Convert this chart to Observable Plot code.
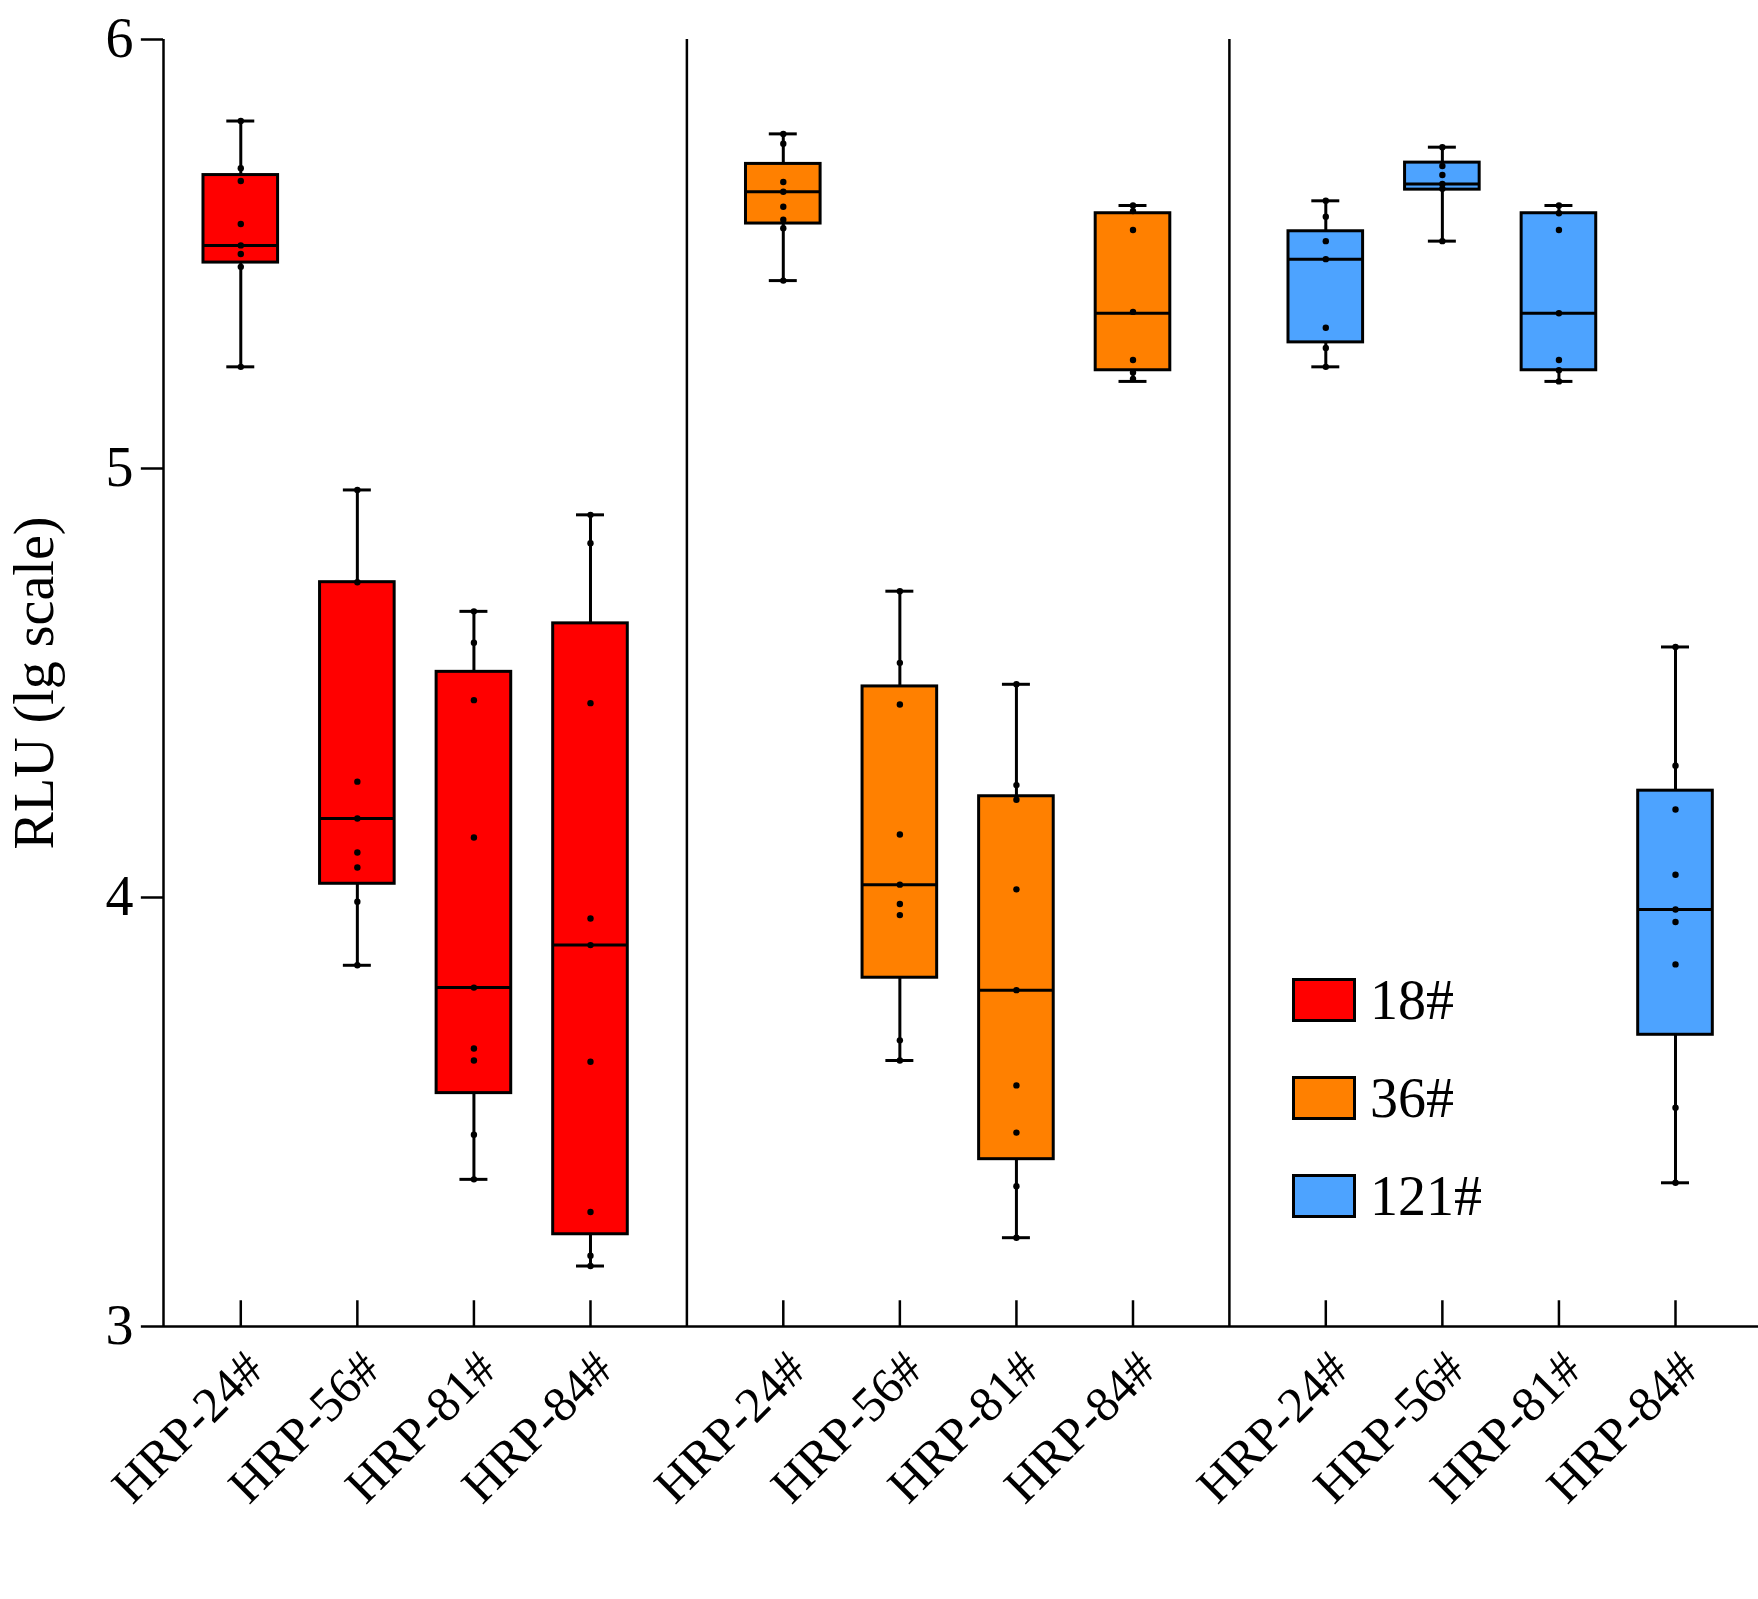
<!DOCTYPE html>
<html><head><meta charset="utf-8">
<script src="https://cdn.jsdelivr.net/npm/d3@7"></script>
<script src="https://cdn.jsdelivr.net/npm/@observablehq/plot@0.6"></script>
<style>body{margin:0;background:#fff;font-family:"Liberation Serif",serif}#wrap{position:relative;width:1758px}
.lg{position:absolute;left:1292px;display:flex;align-items:center;font-size:56px}
.lg span{display:inline-block;width:64px;height:44px;border:3px solid #000;margin-right:14px;box-sizing:border-box}</style>
</head><body><div id="wrap"></div>
<script>
const groups = ["18#","36#","121#"];
const colors = ["#ff0000","#ff8000","#4da3ff"];
const samples = ["HRP-24#","HRP-56#","HRP-81#","HRP-84#"];
// [min, q1, median, q3, max] per group, per sample
const stats18 = [[5.237,5.48,5.52,5.684,5.81],[3.842,4.032,4.184,4.735,4.95],[3.343,3.544,3.79,4.526,4.667],[3.141,3.215,3.889,4.639,4.892]];
const stats36 = [[5.438,5.571,5.645,5.71,5.78],[3.62,3.813,4.03,4.492,4.714],[3.207,3.39,3.784,4.236,4.497],[5.203,5.229,5.362,5.595,5.613]];
const stats121 = [[5.237,5.294,5.488,5.553,5.624],[5.53,5.65,5.663,5.713,5.749],[5.203,5.229,5.362,5.595,5.613],[3.335,3.68,3.972,4.249,4.584]];
const pts18 = [[5.81,5.70,5.67,5.57,5.52,5.50,5.47,5.237],[4.95,4.735,4.27,4.184,4.105,4.07,3.99,3.842],[4.667,4.594,4.46,4.14,3.79,3.648,3.62,3.447,3.343],[4.892,4.826,4.453,3.951,3.889,3.617,3.267,3.165,3.141]];
const pts36 = [[5.78,5.757,5.668,5.645,5.61,5.58,5.56,5.438],[4.714,4.547,4.45,4.147,4.03,3.985,3.959,3.667,3.62],[4.497,4.262,4.228,4.019,3.784,3.562,3.452,3.327,3.207],[5.613,5.6,5.556,5.365,5.253,5.224,5.209]];
const pts121 = [[5.624,5.587,5.53,5.488,5.328,5.281,5.237],[5.749,5.705,5.684,5.663,5.652,5.53],[5.613,5.595,5.556,5.362,5.253,5.229,5.203],[4.584,4.307,4.205,4.053,3.972,3.943,3.844,3.51,3.335]];
const yTicks = [3,4,5,6];

const allStats=[stats18,stats36,stats121], allPts=[pts18,pts36,pts121];
const gStep=4.654, hw=0.32, cw=0.12, x0=-0.663;
const boxes=[], points=[], ticks=[];
groups.forEach((g,gi)=>samples.forEach((s,si)=>{
  const pos=gi*gStep+si, st=allStats[gi][si];
  boxes.push({pos,g,min:st[0],q1:st[1],med:st[2],q3:st[3],max:st[4],color:colors[gi]});
  ticks.push({pos,label:s});
  allPts[gi][si].forEach(v=>points.push({pos,v}));
}));
const seps=[(3+gStep)/2, gStep+(3+gStep)/2];
const plot=Plot.plot({
  width:1758,height:1560,marginLeft:163,marginTop:39,marginRight:0,marginBottom:234,
  x:{type:"linear",domain:[x0,13.02],axis:null},
  y:{type:"linear",domain:[3,6],axis:null},
  style:{fontFamily:"Liberation Serif",fontSize:"50px",color:"#000"},
  marks:[
    Plot.ruleX(ticks,{x:"pos",y1:3,y2:3.06,strokeWidth:2.5}),
    Plot.ruleX(seps,{x:d=>d,y1:3,y2:6,strokeWidth:2.5}),
    Plot.ruleX(boxes,{x:"pos",y1:"min",y2:"max",strokeWidth:3}),
    Plot.ruleY(boxes,{y:"min",x1:d=>d.pos-cw,x2:d=>d.pos+cw,strokeWidth:3}),
    Plot.ruleY(boxes,{y:"max",x1:d=>d.pos-cw,x2:d=>d.pos+cw,strokeWidth:3}),
    Plot.rect(boxes,{x1:d=>d.pos-hw,x2:d=>d.pos+hw,y1:"q1",y2:"q3",fill:"color",stroke:"#000",strokeWidth:3}),
    Plot.ruleY(boxes,{y:"med",x1:d=>d.pos-hw,x2:d=>d.pos+hw,strokeWidth:3}),
    Plot.dot(points,{x:"pos",y:"v",r:3.2,fill:"#000"}),
    Plot.ruleY([3],{y:d=>d,x1:x0,x2:13.02,strokeWidth:2.5}),
    Plot.ruleX([x0],{x:d=>d,y1:3,y2:6,strokeWidth:2.5}),
    Plot.ruleY(yTicks,{y:d=>d,x1:x0-0.19,x2:x0,strokeWidth:2.5}),
    Plot.text(yTicks,{y:d=>d,x:()=>x0,text:d=>String(d),dx:-30,textAnchor:"end",fontSize:56}),
    Plot.text(ticks,{x:"pos",y:()=>3,text:"label",rotate:-45,textAnchor:"end",dx:14,dy:34,fontSize:50}),
    Plot.text(["RLU (lg scale)"],{frameAnchor:"left",textAnchor:"middle",rotate:-90,dx:-128,fontSize:56})
  ]
});
const wrap=document.getElementById("wrap");
wrap.appendChild(plot);
groups.forEach((g,i)=>{
  const d=document.createElement("div");d.className="lg";d.style.top=(968+i*98)+"px";
  d.innerHTML=`<span style="background:${colors[i]}"></span>${g}`;wrap.appendChild(d);
});
</script></body></html>
